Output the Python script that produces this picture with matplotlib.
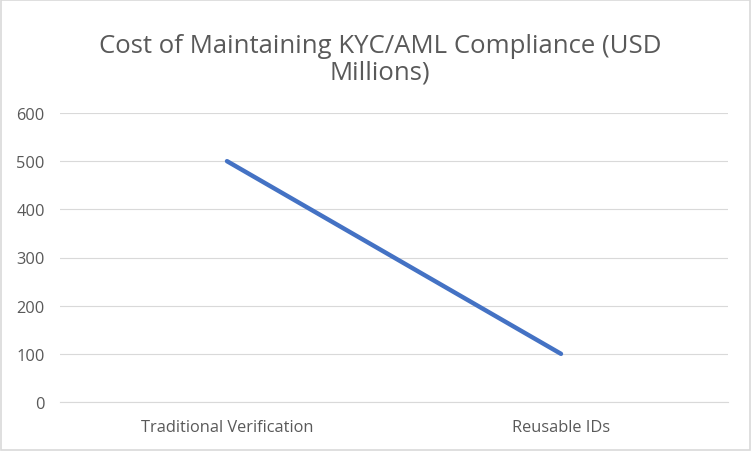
import matplotlib
matplotlib.use("Agg")
import matplotlib.pyplot as plt
from matplotlib.patches import Rectangle

categories = ["Traditional Verification", "Reusable IDs"]
costs = [500, 100]
y_ticks = [0, 100, 200, 300, 400, 500, 600]

TEXT = "#595959"
GRID = "#D9D9D9"
LINE = "#4472C4"


def main():
    fig = plt.figure(figsize=(7.52, 4.52), dpi=100)
    ax = fig.add_axes([60 / 752, 1 - 403 / 452, 668 / 752, 289 / 452])

    x = list(range(len(categories)))
    ax.plot(x, costs, color=LINE, linewidth=3.2, solid_capstyle="round")

    ax.set_xlim(-0.5, len(categories) - 0.5)
    ax.set_ylim(0, 600)
    ax.set_yticks(y_ticks)
    ax.set_xticks(x)
    ax.set_xticklabels(categories)
    ax.grid(axis="y", color=GRID, linewidth=0.8)
    ax.set_axisbelow(True)
    for s in ax.spines.values():
        s.set_visible(False)
    ax.spines["bottom"].set_visible(True)
    ax.spines["bottom"].set_color(GRID)
    ax.spines["bottom"].set_linewidth(0.8)
    ax.tick_params(length=0, colors=TEXT, labelsize=11.8)
    ax.tick_params(axis="y", pad=11)
    ax.tick_params(axis="x", pad=12)
    for lbl in ax.get_xticklabels() + ax.get_yticklabels():
        lbl.set_family("Open Sans")

    fig.text(0.505, 0.868, "Cost of Maintaining KYC/AML Compliance (USD\nMillions)",
             ha="center", va="center", fontsize=18.5, color=TEXT,
             family="Open Sans", linespacing=1.12)

    fig.patches.append(Rectangle((0.001, 0.002), 0.997, 0.996, transform=fig.transFigure,
                                 fill=False, edgecolor=GRID, linewidth=1.2))

    fig.savefig("out.png", dpi=100)


if __name__ == "__main__":
    main()
